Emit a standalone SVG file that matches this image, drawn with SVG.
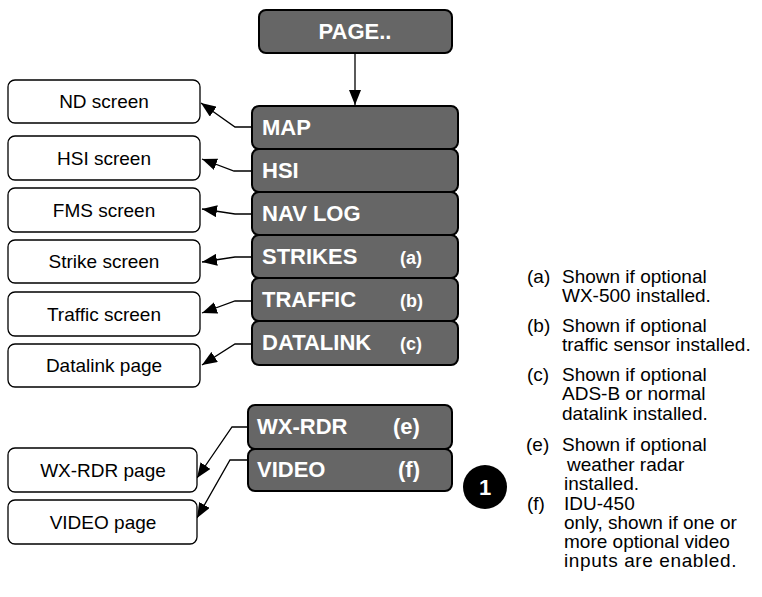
<svg xmlns="http://www.w3.org/2000/svg" width="762" height="597" viewBox="0 0 762 597">
<style>
.dk{fill:#666666;stroke:#000;stroke-width:2}
.wb{fill:#fff;stroke:#000;stroke-width:1.3}
.dt{font-family:"Liberation Sans",Arial,sans-serif;font-weight:bold;font-size:22px;fill:#fff}
.st{font-family:"Liberation Sans",Arial,sans-serif;font-weight:bold;font-size:18px;fill:#fff}
.wt{font-family:"Liberation Sans",Arial,sans-serif;font-size:19px;fill:#000;text-anchor:middle}
.nt{font-family:"Liberation Sans",Arial,sans-serif;font-size:19px;fill:#000}
.cn{fill:none;stroke:#000;stroke-width:1.3;marker-end:url(#ah)}
</style>
<defs>
<marker id="ah" markerUnits="userSpaceOnUse" markerWidth="16" markerHeight="12" refX="15" refY="6" orient="auto">
<path d="M0,0 L15,6 L0,12 z" fill="#000"/>
</marker>
</defs>
<rect width="762" height="597" fill="#fff"/>
<g id="connectors">
<path class="cn" d="M355,53 L355,105"/>
<path class="cn" d="M252,127 L235,127 L201,103"/>
<path class="cn" d="M252,171 L234,171 L202,159"/>
<path class="cn" d="M252,214 L235,214 L202,209"/>
<path class="cn" d="M252,257 L235,257 L202,262"/>
<path class="cn" d="M252,301 L235,301 L202,313"/>
<path class="cn" d="M252,344 L235,344 L202,365"/>
<path class="cn" d="M248,427 L232,427 L197,478"/>
<path class="cn" d="M248,460 L230,460 L197,518"/>
</g>
<g id="page"><rect class="dk" x="259" y="10" width="193" height="43" rx="7"/><text class="dt" x="355" y="39" text-anchor="middle">PAGE..</text></g>
<g id="map"><rect class="dk" x="252" y="106" width="206" height="43" rx="7"/><text class="dt" x="262" y="135">MAP</text></g>
<g id="hsi"><rect class="dk" x="252" y="149" width="206" height="43" rx="7"/><text class="dt" x="262" y="178">HSI</text></g>
<g id="navlog"><rect class="dk" x="252" y="192" width="206" height="43" rx="7"/><text class="dt" x="262" y="221">NAV LOG</text></g>
<g id="strikes"><rect class="dk" x="252" y="235" width="206" height="43" rx="7"/><text class="dt" x="262" y="264">STRIKES</text><text class="st" x="400" y="264">(a)</text></g>
<g id="traffic"><rect class="dk" x="252" y="278" width="206" height="43" rx="7"/><text class="dt" x="262" y="307">TRAFFIC</text><text class="st" x="400" y="307">(b)</text></g>
<g id="datalink"><rect class="dk" x="252" y="321" width="206" height="44" rx="7"/><text class="dt" x="262" y="350">DATALINK</text><text class="st" x="400" y="350">(c)</text></g>
<g id="wxrdr"><rect class="dk" x="248" y="405" width="204" height="44" rx="7"/><text class="dt" x="257" y="434">WX-RDR</text><text class="dt" x="393" y="434">(e)</text></g>
<g id="video"><rect class="dk" x="248" y="449" width="204" height="42" rx="7"/><text class="dt" x="257" y="477">VIDEO</text><text class="dt" x="398" y="477">(f)</text></g>
<g id="nd"><rect class="wb" x="8" y="80" width="192" height="43" rx="7"/><text class="wt" x="104" y="108">ND screen</text></g>
<g id="hsiscreen"><rect class="wb" x="8" y="136" width="192" height="44" rx="7"/><text class="wt" x="104" y="165">HSI screen</text></g>
<g id="fms"><rect class="wb" x="8" y="188" width="192" height="44" rx="7"/><text class="wt" x="104" y="217">FMS screen</text></g>
<g id="strike"><rect class="wb" x="8" y="240" width="192" height="43" rx="7"/><text class="wt" x="104" y="268">Strike screen</text></g>
<g id="trafficscreen"><rect class="wb" x="8" y="292" width="192" height="44" rx="7"/><text class="wt" x="104" y="321">Traffic screen</text></g>
<g id="datalinkpage"><rect class="wb" x="8" y="344" width="192" height="43" rx="7"/><text class="wt" x="104" y="372">Datalink page</text></g>
<g id="wxrdrpage"><rect class="wb" x="8" y="448" width="189" height="44" rx="7"/><text class="wt" x="103" y="477">WX-RDR page</text></g>
<g id="videopage"><rect class="wb" x="8" y="500" width="189" height="44" rx="7"/><text class="wt" x="103" y="529">VIDEO page</text></g>
<g id="badge"><circle cx="485" cy="487" r="22" fill="#000"/><text x="485" y="495" text-anchor="middle" font-family="Liberation Sans,Arial,sans-serif" font-weight="bold" font-size="22" fill="#fff">1</text></g>
<g id="notes">
<text class="nt" x="527" y="283">(a)</text><text class="nt" x="562" y="283">Shown if optional</text>
<text class="nt" x="562" y="302">WX-500 installed.</text>
<text class="nt" x="527" y="332">(b)</text><text class="nt" x="562" y="332">Shown if optional</text>
<text class="nt" x="562" y="351">traffic sensor installed.</text>
<text class="nt" x="527" y="381">(c)</text><text class="nt" x="562" y="381">Shown if optional</text>
<text class="nt" x="562" y="400">ADS-B or normal</text>
<text class="nt" x="562" y="420">datalink installed.</text>
<text class="nt" x="526" y="451">(e)</text><text class="nt" x="562" y="451">Shown if optional</text>
<text class="nt" x="567" y="471">weather radar</text>
<text class="nt" x="564" y="490">installed.</text>
<text class="nt" x="527" y="510">(f)</text><text class="nt" x="564" y="510">IDU-450</text>
<text class="nt" x="564" y="529">only, shown if one or</text>
<text class="nt" x="564" y="548">more optional video</text>
<text class="nt" x="564" y="567" letter-spacing="0.6">inputs are enabled.</text>
</g>
</svg>
